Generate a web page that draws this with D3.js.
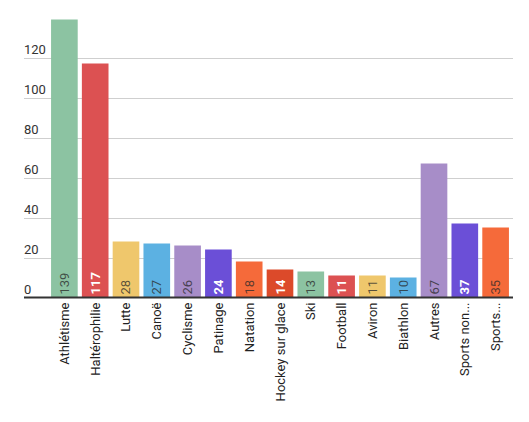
<!DOCTYPE html>
<html lang="fr">
<head>
<meta charset="utf-8">
<title>Médailles par sport</title>
<script src="https://d3js.org/d3.v7.min.js"></script>
<style>
  body { margin: 0; background: #fff; }
  text { font-family: Roboto, "Noto Sans", sans-serif; }
</style>
</head>
<body>
<script>
// data
const sports = ["Athlétisme", "Haltérophilie", "Lutte", "Canoë", "Cyclisme", "Patinage", "Natation",
                "Hockey sur glace", "Ski", "Football", "Aviron", "Biathlon", "Autres", "Sports non...", "Sports..."];
const counts = [139, 117, 28, 27, 26, 24, 18, 14, 13, 11, 11, 10, 67, 37, 35];
const yTicks = [0, 20, 40, 60, 80, 100, 120];

// colour cycle (8 colours), plus which ones get white labels
const palette = ["#8cc3a2", "#dc5152", "#efc76c", "#5cb1e2", "#a78dc8", "#6b4fd7", "#f56a3a", "#dc4a2a"];
const darkBars = ["#dc5152", "#6b4fd7", "#dc4a2a"];

const w = 529, h = 422;
const left = 24, right = 513, baseY = 297.5;

const svg = d3.select("body").append("svg")
    .attr("width", w)
    .attr("height", h);

const x = d3.scaleBand()
    .domain(sports)
    .range([49, 511])
    .paddingInner(0.135)
    .paddingOuter(0.067);

const y = d3.scaleLinear()
    .domain([0, 120])
    .range([baseY, 57.5]);

// gridlines + labels
const grid = svg.append("g");
grid.selectAll("line")
    .data(yTicks.filter(d => d > 0))
    .enter().append("line")
    .attr("x1", left).attr("x2", right)
    .attr("y1", d => Math.round(y(d)) + 0.5)
    .attr("y2", d => Math.round(y(d)) + 0.5)
    .attr("stroke", "#cfcfcf")
    .attr("stroke-width", 1);

grid.selectAll("text")
    .data(yTicks)
    .enter().append("text")
    .attr("x", left)
    .attr("y", d => y(d) - 4)
    .attr("font-size", "13px")
    .attr("fill", "#333")
    .text(d => d);

// bars
const color = i => palette[i % palette.length];

svg.selectAll("rect.bar")
    .data(counts)
    .enter().append("rect")
    .attr("class", "bar")
    .attr("x", (d, i) => x(sports[i]))
    .attr("width", x.bandwidth())
    .attr("y", d => y(d))
    .attr("height", d => baseY - y(d))
    .attr("fill", (d, i) => color(i));

// baseline
svg.append("line")
    .attr("x1", left).attr("x2", right)
    .attr("y1", baseY).attr("y2", baseY)
    .attr("stroke", "#333")
    .attr("stroke-width", 2);

// value labels inside bars
svg.selectAll("text.val")
    .data(counts)
    .enter().append("text")
    .attr("class", "val")
    .attr("transform", (d, i) => `translate(${x(sports[i]) + x.bandwidth() / 2 + 4.5},${baseY - 3}) rotate(-90)`)
    .attr("font-size", "13px")
    .attr("font-weight", (d, i) => darkBars.includes(color(i)) ? "bold" : "normal")
    .attr("fill", (d, i) => darkBars.includes(color(i)) ? "#fff" : "rgba(40,40,40,0.75)")
    .text(d => d);

// category labels
svg.selectAll("text.cat")
    .data(sports)
    .enter().append("text")
    .attr("class", "cat")
    .attr("transform", d => `translate(${x(d) + x.bandwidth() / 2 + 4.5},${baseY + 5}) rotate(-90)`)
    .attr("text-anchor", "end")
    .attr("font-size", "13px")
    .attr("fill", "#222")
    .text(d => d);
</script>
</body>
</html>
